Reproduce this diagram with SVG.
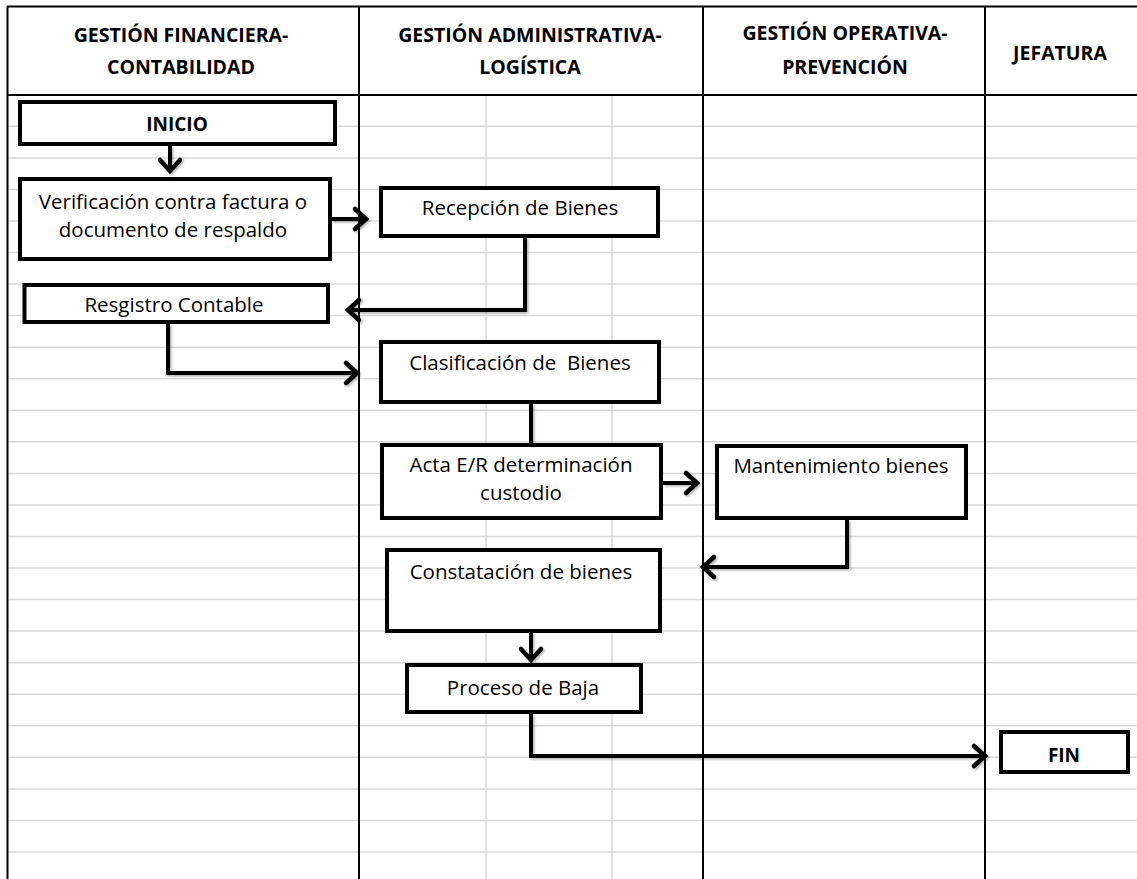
<svg xmlns="http://www.w3.org/2000/svg" width="1137" height="879" viewBox="0 0 1137 879">
  <style>
    .grid { stroke: #d9d9d9; stroke-width: 1.5; fill: none; }
    .border { stroke: #000; stroke-width: 2; fill: none; }
    .box { fill: #fff; stroke: #000; stroke-width: 4; }
    .conn { fill: none; stroke: #000; stroke-width: 4; stroke-linejoin: miter; stroke-linecap: butt; }
    .hdr { font-family: "Open Sans", "Liberation Sans", sans-serif; font-weight: bold; font-size: 19.5px; fill: #000; text-anchor: middle; }
    .lbl { font-family: "Open Sans", "Liberation Sans", sans-serif; font-size: 20.5px; fill: #000; text-anchor: middle; white-space: pre; }
    .lblb { font-family: "Open Sans", "Liberation Sans", sans-serif; font-weight: bold; font-size: 19px; fill: #000; text-anchor: middle; }
  </style>
  <defs>
    <marker id="arr" markerUnits="userSpaceOnUse" markerWidth="30" markerHeight="30" viewBox="-15 -15 30 30" refX="0" refY="0" orient="auto" overflow="visible">
      <path d="M -11 -10 L 0 0 L -11 10" fill="none" stroke="#000" stroke-width="4.5" stroke-linecap="round" stroke-linejoin="miter"/>
    </marker>
    <filter id="sh" x="-10%" y="-10%" width="130%" height="130%">
      <feDropShadow dx="1.5" dy="1.5" stdDeviation="1.2" flood-color="#000" flood-opacity="0.3"/>
    </filter>
  </defs>
  <rect x="0" y="0" width="1137" height="879" fill="#fff"/>

  <g id="grid">
    <line class="grid" x1="8" y1="126.3" x2="1137" y2="126.3"/>
    <line class="grid" x1="8" y1="157.9" x2="1137" y2="157.9"/>
    <line class="grid" x1="8" y1="189.4" x2="1137" y2="189.4"/>
    <line class="grid" x1="8" y1="221.0" x2="1137" y2="221.0"/>
    <line class="grid" x1="8" y1="252.5" x2="1137" y2="252.5"/>
    <line class="grid" x1="8" y1="284.1" x2="1137" y2="284.1"/>
    <line class="grid" x1="8" y1="315.6" x2="1137" y2="315.6"/>
    <line class="grid" x1="8" y1="347.2" x2="1137" y2="347.2"/>
    <line class="grid" x1="8" y1="378.7" x2="1137" y2="378.7"/>
    <line class="grid" x1="8" y1="410.3" x2="1137" y2="410.3"/>
    <line class="grid" x1="8" y1="441.8" x2="1137" y2="441.8"/>
    <line class="grid" x1="8" y1="473.4" x2="1137" y2="473.4"/>
    <line class="grid" x1="8" y1="504.9" x2="1137" y2="504.9"/>
    <line class="grid" x1="8" y1="536.5" x2="1137" y2="536.5"/>
    <line class="grid" x1="8" y1="568.0" x2="1137" y2="568.0"/>
    <line class="grid" x1="8" y1="599.6" x2="1137" y2="599.6"/>
    <line class="grid" x1="8" y1="631.1" x2="1137" y2="631.1"/>
    <line class="grid" x1="8" y1="662.7" x2="1137" y2="662.7"/>
    <line class="grid" x1="8" y1="694.2" x2="1137" y2="694.2"/>
    <line class="grid" x1="8" y1="725.8" x2="1137" y2="725.8"/>
    <line class="grid" x1="8" y1="757.3" x2="1137" y2="757.3"/>
    <line class="grid" x1="8" y1="788.9" x2="1137" y2="788.9"/>
    <line class="grid" x1="8" y1="820.4" x2="1137" y2="820.4"/>
    <line class="grid" x1="8" y1="852.0" x2="1137" y2="852.0"/>
    <line class="grid" x1="486" y1="96" x2="486" y2="879"/>
    <line class="grid" x1="612" y1="96" x2="612" y2="879"/>
  </g>

  <g id="lanes">
    <line class="border" x1="7" y1="6.5" x2="1137" y2="6.5"/>
    <line class="border" x1="7" y1="95" x2="1137" y2="95"/>
    <line class="border" x1="7.5" y1="6" x2="7.5" y2="879" stroke-width="2.5"/>
    <line class="border" x1="359" y1="6" x2="359" y2="879"/>
    <line class="border" x1="703" y1="6" x2="703" y2="879"/>
    <line class="border" x1="985" y1="6" x2="985" y2="879"/>
    <text class="hdr" x="181" y="42">GESTIÓN FINANCIERA-</text>
    <text class="hdr" x="181" y="74">CONTABILIDAD</text>
    <text class="hdr" x="530" y="42">GESTIÓN ADMINISTRATIVA-</text>
    <text class="hdr" x="530" y="74">LOGÍSTICA</text>
    <text class="hdr" x="845" y="40">GESTIÓN OPERATIVA-</text>
    <text class="hdr" x="845" y="74">PREVENCIÓN</text>
    <text class="hdr" x="1060" y="60">JEFATURA</text>
  </g>

  <g id="connectors" filter="url(#sh)">
    <path class="conn" d="M 170 146 L 170 171" marker-end="url(#arr)"/>
    <path class="conn" d="M 332 219 L 366 219" marker-end="url(#arr)"/>
    <path class="conn" d="M 525 238 L 525 310 L 348 310" marker-end="url(#arr)"/>
    <path class="conn" d="M 168 324 L 168 373 L 357 373" marker-end="url(#arr)"/>
    <path class="conn" d="M 531 404 L 531 443"/>
    <path class="conn" d="M 663 483 L 697 483" marker-end="url(#arr)"/>
    <path class="conn" d="M 847 520 L 847 567 L 703 567" marker-end="url(#arr)"/>
    <path class="conn" d="M 531 633 L 531 660" marker-end="url(#arr)"/>
    <path class="conn" d="M 531 714 L 531 756 L 985 756" marker-end="url(#arr)"/>
  </g>

  <g id="n-inicio">
    <rect class="box" x="20" y="102" width="315" height="42"/>
    <text class="lblb" x="177" y="131">INICIO</text>
  </g>
  <g id="n-verificacion">
    <rect class="box" x="20" y="179" width="310" height="80"/>
    <text class="lbl" x="173" y="209">Verificación contra factura o</text>
    <text class="lbl" x="173" y="237">documento de respaldo</text>
  </g>
  <g id="n-recepcion">
    <rect class="box" x="381" y="188" width="277" height="48"/>
    <text class="lbl" x="520" y="215">Recepción de Bienes</text>
  </g>
  <g id="n-registro">
    <rect class="box" x="24.5" y="285" width="303.5" height="37"/>
    <text class="lbl" x="174" y="312">Resgistro Contable</text>
  </g>
  <g id="n-clasificacion">
    <rect class="box" x="381" y="342" width="278" height="60"/>
    <text class="lbl" x="520" y="370" xml:space="preserve">Clasificación de  Bienes</text>
  </g>
  <g id="n-acta">
    <rect class="box" x="382" y="445" width="279" height="73"/>
    <text class="lbl" x="521" y="472">Acta E/R determinación</text>
    <text class="lbl" x="521" y="500">custodio</text>
  </g>
  <g id="n-mantenimiento">
    <rect class="box" x="717" y="446" width="249" height="72"/>
    <text class="lbl" x="841" y="473">Mantenimiento bienes</text>
  </g>
  <g id="n-constatacion">
    <rect class="box" x="387" y="550" width="273" height="81"/>
    <text class="lbl" x="521" y="579">Constatación de bienes</text>
  </g>
  <g id="n-baja">
    <rect class="box" x="407" y="665" width="234" height="47"/>
    <text class="lbl" x="523" y="695">Proceso de Baja</text>
  </g>
  <g id="n-fin">
    <rect class="box" x="1001" y="732" width="127" height="40"/>
    <text class="lblb" x="1064" y="762">FIN</text>
  </g>
</svg>
